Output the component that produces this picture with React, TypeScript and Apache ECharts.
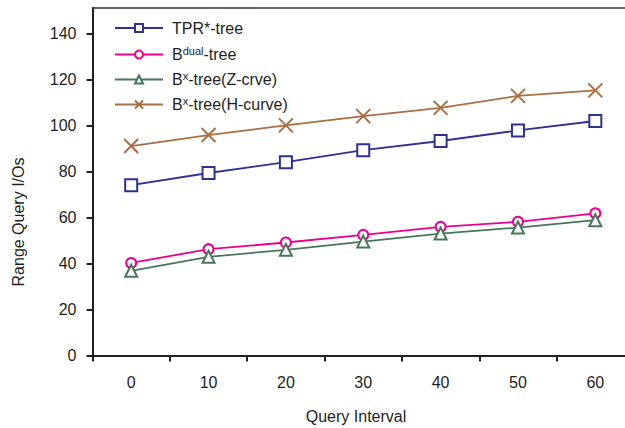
import React, { useEffect, useRef } from "react";
import * as echarts from "echarts";

const categories = ["0", "10", "20", "30", "40", "50", "60"];
const yTickValues = [0, 20, 40, 60, 80, 100, 120, 140];

const seriesNames = ["TPR*-tree", "Bdual-tree", "Bx-tree(Z-crve)", "Bx-tree(H-curve)"];
const tprTree = [74.0, 79.3, 84.0, 89.2, 93.2, 97.8, 101.9];
const bDualTree = [40.2, 46.2, 49.1, 52.4, 55.9, 58.1, 61.8];
const bxTreeZ = [36.8, 42.9, 45.9, 49.5, 53.0, 55.6, 58.8];
const bxTreeH = [91.0, 95.8, 100.0, 104.0, 107.6, 112.8, 115.2];

const FONT = "'Liberation Sans', Arial, Helvetica, sans-serif";
const TEXT = "#231f20";
const AXIS = "#231f20";
const FS = 16;

const colors = ["#2e3192", "#ec008c", "#45785a", "#a86f45"];

const legendRich = (name: string) => {
  if (name === "Bdual-tree") return "{n|B}{s|dual}{n|-tree}";
  if (name.startsWith("Bx-")) return "{n|B}{s|x}{n|" + name.slice(2) + "}";
  return "{n|" + name + "}";
};

export default function App() {
  const ref = useRef<HTMLDivElement>(null);
  useEffect(() => {
    if (!ref.current) return;
    const chart = echarts.init(ref.current, null, { renderer: "svg" });
    const xPath = "path://M0,0L12,12M12,0L0,12";
    const option: any = {
      animation: false,
      backgroundColor: "#fff",
      grid: {
        left: 92.5,
        top: 8,
        width: 541.5,
        height: 347.5,
        show: false,
        containLabel: false,
        outerBoundsMode: "none",
      },
      xAxis: [
        {
          type: "category",
          data: categories,
          boundaryGap: true,
          axisLine: { lineStyle: { color: AXIS, width: 2 } },
          axisTick: { show: true, length: 6, lineStyle: { color: AXIS, width: 2 } },
          axisLabel: { margin: 19, fontSize: FS, fontFamily: FONT, color: TEXT },
          splitLine: { show: false },
        },
        {
          type: "category",
          position: "top",
          data: categories,
          boundaryGap: true,
          axisLine: { show: true, lineStyle: { color: "#333", width: 1.5 } },
          axisTick: { show: false },
          axisLabel: { show: false },
          splitLine: { show: false },
        },
      ],
      yAxis: {
        type: "value",
        min: 0,
        max: 151,
        interval: 20,
        axisLine: { show: true, lineStyle: { color: AXIS, width: 2 } },
        axisTick: { show: true, length: 6, customValues: yTickValues, lineStyle: { color: AXIS, width: 2 } },
        axisLabel: {
          margin: 16,
          fontSize: FS,
          fontFamily: FONT,
          color: TEXT,
          customValues: yTickValues,
        },
        splitLine: { show: false },
      },
      legend: seriesNames.map((name, i) => ({
        data: [name],
        orient: "vertical",
        left: 114,
        top: 20 + 25 * i,
        padding: 0,
        itemWidth: 48,
        itemHeight: 10,
        itemGap: 0,
        selectedMode: false,
        formatter: legendRich,
        textStyle: {
          padding: [0, 0, 0, 4],
          rich: {
            n: { fontSize: FS, fontFamily: FONT, color: TEXT, lineHeight: 19 },
            s: { fontSize: 11, fontFamily: FONT, color: TEXT, lineHeight: 13, verticalAlign: "top" },
          },
        },
      })),
      graphic: [
        {
          type: "rect",
          z: 100,
          shape: { x: 619, y: 9.2, width: 12, height: 344.8 },
          style: { fill: "#fff" },
          silent: true,
        },
        {
          type: "text",
          x: 18,
          y: 222,
          rotation: Math.PI / 2,
          style: {
            text: "Range Query I/Os",
            font: FS + "px " + FONT,
            fill: TEXT,
            align: "center",
            verticalAlign: "middle",
          },
        },
        {
          type: "text",
          x: 356,
          y: 416,
          style: {
            text: "Query Interval",
            font: FS + "px " + FONT,
            fill: TEXT,
            align: "center",
            verticalAlign: "middle",
          },
        },
      ],
      series: [
        {
          name: seriesNames[0],
          type: "line",
          data: tprTree,
          symbol: "emptyRect",
          symbolSize: 12,
          color: colors[0],
          lineStyle: { color: colors[0], width: 1.8 },
          itemStyle: { color: colors[0], borderWidth: 2 },
        },
        {
          name: seriesNames[1],
          type: "line",
          data: bDualTree,
          symbol: "emptyCircle",
          symbolSize: 10,
          color: colors[1],
          lineStyle: { color: colors[1], width: 1.8 },
          itemStyle: { color: colors[1], borderWidth: 2 },
        },
        {
          name: seriesNames[2],
          type: "line",
          data: bxTreeZ,
          symbol: "emptyTriangle",
          symbolSize: 12,
          color: colors[2],
          lineStyle: { color: colors[2], width: 1.8 },
          itemStyle: { color: colors[2], borderWidth: 2 },
        },
        {
          name: seriesNames[3],
          type: "line",
          data: bxTreeH,
          symbol: xPath,
          symbolSize: 14,
          color: colors[3],
          lineStyle: { color: colors[3], width: 1.8 },
          itemStyle: { color: colors[3], borderColor: colors[3], borderWidth: 2 },
        },
      ],
    };
    chart.setOption(option);
    return () => chart.dispose();
  }, []);
  return (
    <div
      ref={ref}
      style={{ position: "fixed", left: 0, top: 0, width: 625, height: 428, overflow: "hidden", background: "#fff" }}
    />
  );
}
